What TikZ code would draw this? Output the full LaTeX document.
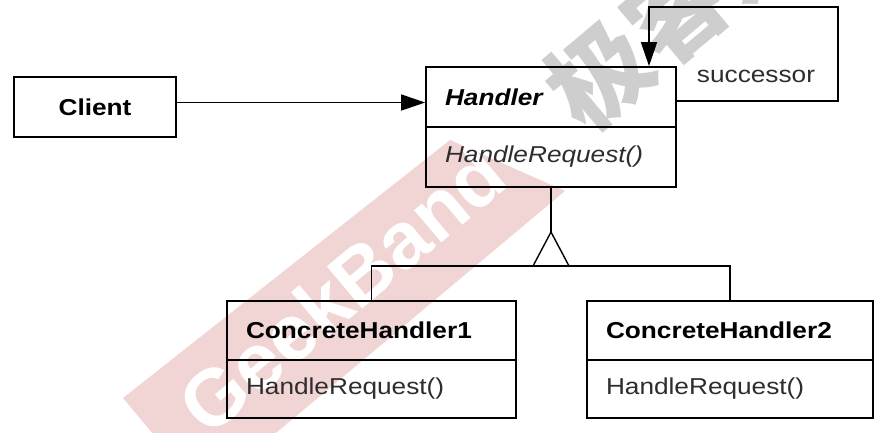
\documentclass[tikz,border=0pt]{standalone}
\usepackage{fontspec}
\setmainfont{Liberation Sans}[FakeStretch=1.14]
\newfontfamily\markfont{Liberation Sans}
\newfontfamily\cjkmark{Noto Sans CJK SC}
\usetikzlibrary{arrows.meta}

\definecolor{markpink}{RGB}{241,213,213}
\definecolor{markgray}{RGB}{206,206,206}
\definecolor{optext}{RGB}{45,45,45}

\tikzset{
  comp/.style={draw=black, line width=1.7pt, rectangle, inner xsep=19pt,
    inner ysep=0pt, align=left, anchor=center, text=black,
    font=\fontsize{23}{26}\selectfont},
  compname/.style={comp, font=\fontsize{23}{26}\selectfont\bfseries},
  compops/.style={comp, text=optext},
  conn/.style={line width=1.4pt, draw=black},
  headtip/.style={-{Triangle[length=24pt,width=16pt]}},
}

\begin{document}
\begin{tikzpicture}[x=1pt,y=-1pt]
  \useasboundingbox (0,0) rectangle (890,432);
  \fill[white] (0,0) rectangle (890,432);

  % watermark band behind the diagram
  \begin{scope}
    \clip (0,0) rectangle (890,432);
    \fill[markpink] (123,398) -- (450,140) -- (565,191) -- (203,494) -- cycle;
    \node[rotate=40, text=white, inner sep=0pt,
      font=\markfont\bfseries\fontsize{80}{80}\selectfont] (mark) at (342,289) {GeekBand};
    \node[rotate=40, text=markgray, inner sep=0pt,
      font=\cjkmark\bfseries\fontsize{100}{100}\selectfont] (markcn) at (676,10) {极客邦};
  \end{scope}

  % classes
  \node[compname, text width=124pt, align=center, minimum height=60pt] (client) at (95,107) {Client};

  \node[compname, text width=212pt, minimum height=60pt,
    font=\fontsize{23}{26}\selectfont\bfseries\itshape] (handler) at (551,97) {Handler};
  \node[compops, text width=212pt, minimum height=60pt,
    font=\fontsize{23}{26}\selectfont\itshape] (handlerops) at (551,157) {HandleRequest()};

  \node[compname, text width=251pt, minimum height=59pt] (ch1) at (371.5,330.5) {ConcreteHandler1};
  \node[compops, text width=251pt, minimum height=58pt] (ch1ops) at (371.5,389) {HandleRequest()};

  \node[compname, text width=248pt, minimum height=59pt] (ch2) at (730,330.5) {ConcreteHandler2};
  \node[compops, text width=248pt, minimum height=58pt] (ch2ops) at (730,389) {HandleRequest()};

  % client -> handler
  \coordinate (clout) at ([yshift=4.5pt]client.east);
  \draw[conn, headtip] (clout) -- (clout -| handler.west);

  % successor self reference
  \coordinate (loopc) at (838,7);
  \draw[conn, headtip] ([yshift=-4pt]handler.east) -| (loopc) -| ([xshift=98pt]handler.north);
  \node[font=\fontsize{23}{26}\selectfont, text=optext, inner sep=0pt] (succ) at (756,76) {successor};

  % inheritance
  \coordinate (apex) at (551,232);
  \coordinate (bar) at (551,266);
  \draw[conn] (handlerops.south) -- (apex);
  \draw[conn, line join=miter] (apex) -- ++(-18,34) -- ++(36,0) -- cycle;
  \draw[conn] (ch1.north) -- (ch1.north |- bar) -- (ch2.north |- bar) -- (ch2.north);
\end{tikzpicture}
\end{document}
